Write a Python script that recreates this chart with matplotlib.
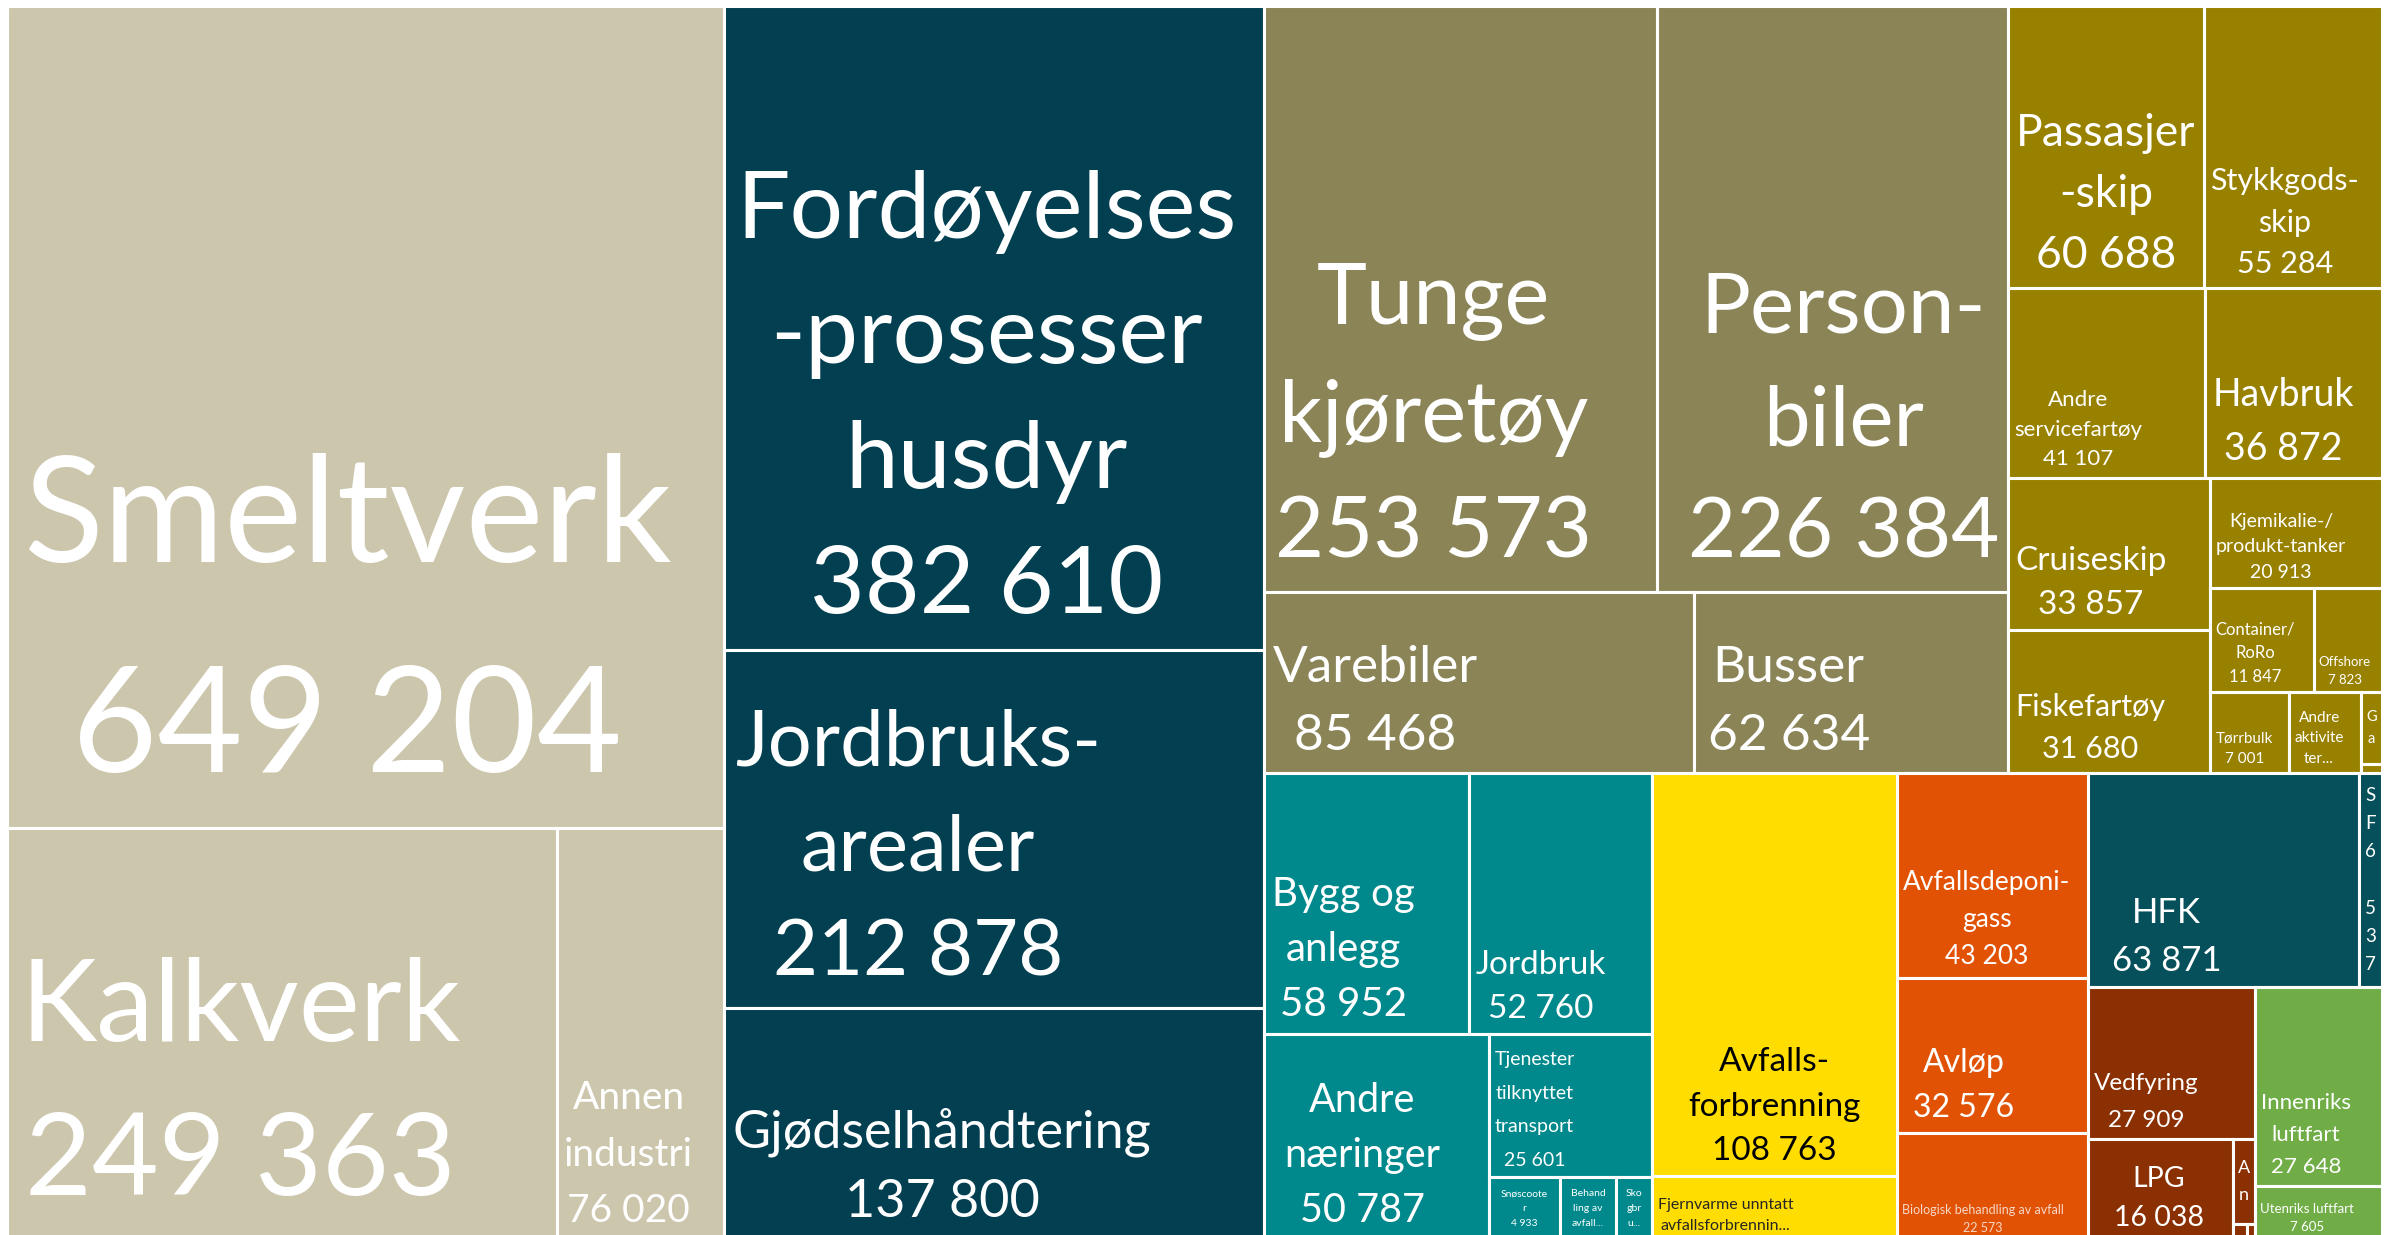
import matplotlib.pyplot as plt
from matplotlib.patches import Rectangle

plt.rcParams["font.family"] = ["Lato", "DejaVu Sans"]

# utslipp per kilde (tonn CO2-ekv.), small cells without visible value are estimated
names = [
    "Smeltverk", "Kalkverk", "Annen industri",
    "Fordøyelsesprosesser husdyr", "Jordbruksarealer", "Gjødselhåndtering",
    "Tunge kjøretøy", "Personbiler", "Varebiler", "Busser",
    "Passasjerskip", "Stykkgodsskip", "Andre servicefartøy", "Havbruk", "Cruiseskip",
    "Fiskefartøy", "Kjemikalie-/produkt-tanker", "Container/RoRo", "Offshore", "Tørrbulk",
    "Andre aktiviteter", "Gasstankskip", "Annet skip",
    "Bygg og anlegg", "Jordbruk", "Andre næringer", "Tjenester tilknyttet transport",
    "Snøscooter", "Behandling av avfall", "Skogbruk",
    "Avfallsforbrenning", "Fjernvarme unntatt avfallsforbrenning",
    "Avfallsdeponigass", "Avløp", "Biologisk behandling av avfall",
    "HFK", "SF6",
    "Vedfyring", "LPG", "Annen oppvarming", "Fyringsolje", "Annet",
    "Innenriks luftfart", "Utenriks luftfart",
]
values = [
    649204, 249363, 76020,
    382610, 212878, 137800,
    253573, 226384, 85468, 62634,
    60688, 55284, 41107, 36872, 33857,
    31680, 20913, 11847, 7823, 7001,
    6400, 1650, 200,
    58952, 52760, 50787, 25601,
    4933, 3900, 2500,
    108763, 17200,
    43203, 32576, 22573,
    63871, 5537,
    27909, 16038, 2100, 250, 150,
    27648, 7605,
]
sectors = (
    ["industri"] * 3 + ["jordbruk"] * 3 + ["veitrafikk"] * 4 + ["sjofart"] * 13
    + ["maskiner"] * 7 + ["forbrenning"] * 2 + ["avfall"] * 3 + ["fgass"] * 2
    + ["oppvarming"] * 5 + ["luftfart"] * 2
)
labels = [
    "Smeltverk\n649 204", "Kalkverk\n249 363", "Annen\nindustri\n76 020",
    "Fordøyelses\n-prosesser\nhusdyr\n382 610", "Jordbruks-\narealer\n212 878", "Gjødselhåndtering\n137 800",
    "Tunge\nkjøretøy\n253 573", "Person-\nbiler\n226 384", "Varebiler\n85 468", "Busser\n62 634",
    "Passasjer\n-skip\n60 688", "Stykkgods-\nskip\n55 284", "Andre\nservicefartøy\n41 107",
    "Havbruk\n36 872", "Cruiseskip\n33 857", "Fiskefartøy\n31 680",
    "Kjemikalie-/\nprodukt-tanker\n20 913", "Container/\nRoRo\n11 847", "Offshore\n7 823",
    "Tørrbulk\n7 001", "Andre\naktivite\nter...", "G\na", "",
    "Bygg og\nanlegg\n58 952", "Jordbruk\n52 760", "Andre\nnæringer\n50 787",
    "Tjenester\ntilknyttet\ntransport\n25 601",
    "Snøscoote\nr\n4 933", "Behand\nling av\navfall...", "Sko\ngbr\nu...",
    "Avfalls-\nforbrenning\n108 763", "Fjernvarme unntatt\navfallsforbrennin...",
    "Avfallsdeponi-\ngass\n43 203", "Avløp\n32 576", "Biologisk behandling av avfall\n22 573",
    "HFK\n63 871", "S\nF\n6\n\n5\n3\n7",
    "Vedfyring\n27 909", "LPG\n16 038", "A\nn", "", "",
    "Innenriks\nluftfart\n27 648", "Utenriks luftfart\n7 605",
]

sector_colors = {
    "industri": "#CCC6AD", "jordbruk": "#023F51", "veitrafikk": "#8A8457",
    "sjofart": "#998100", "maskiner": "#00898C", "forbrenning": "#FFDD00",
    "avfall": "#E15205", "fgass": "#05505A", "oppvarming": "#8A3003",
    "luftfart": "#70AD47",
}
font_pt = {
    "Smeltverk": 106, "Kalkverk": 83, "Annen industri": 28,
    "Fordøyelsesprosesser husdyr": 68, "Jordbruksarealer": 56, "Gjødselhåndtering": 37.5,
    "Tunge kjøretøy": 61, "Personbiler": 60, "Varebiler": 37, "Busser": 37,
    "Passasjerskip": 32, "Stykkgodsskip": 22, "Andre servicefartøy": 16, "Havbruk": 27,
    "Cruiseskip": 24, "Fiskefartøy": 22, "Kjemikalie-/produkt-tanker": 14,
    "Container/RoRo": 12, "Offshore": 9.5, "Tørrbulk": 11, "Andre aktiviteter": 11,
    "Gasstankskip": 10.5, "Bygg og anlegg": 29, "Jordbruk": 24, "Andre næringer": 28.5,
    "Tjenester tilknyttet transport": 14, "Snøscooter": 7.5, "Behandling av avfall": 7.5,
    "Skogbruk": 7.5, "Avfallsforbrenning": 24, "Fjernvarme unntatt avfallsforbrenning": 11.5,
    "Avfallsdeponigass": 19, "Avløp": 23, "Biologisk behandling av avfall": 9,
    "HFK": 25, "SF6": 13.5, "Vedfyring": 17.5, "LPG": 20.5, "Annen oppvarming": 13,
    "Innenriks luftfart": 16, "Utenriks luftfart": 9.5,
}
text_colors = {
    "Avfallsforbrenning": "black",
    "Fjernvarme unntatt avfallsforbrenning": "#262626",
    "Biologisk behandling av avfall": "#F6D8C8",
}
line_spacing = {
    "Smeltverk": 1.7, "Tjenester tilknyttet transport": 2.2, "Vedfyring": 1.9,
    "Annen industri": 1.7, "Innenriks luftfart": 1.75,
}
# extra sideways shift (points) where Excel put the label further in
x_nudge = {
    "Personbiler": 14, "Andre næringer": 9, "HFK": 12, "LPG": 14, "Avløp": 7, "Busser": 4,
}
centered = {"Avfallsforbrenning"}
middle = {"Gasstankskip", "SF6", "Annen oppvarming", "Snøscooter", "Behandling av avfall", "Skogbruk"}

# how Excel nested the cells: "h" = side by side, "v" = stacked
shipping = ("v", [
    ("h", ["Passasjerskip", "Stykkgodsskip"]),
    ("h", ["Andre servicefartøy", "Havbruk"]),
    ("h", [
        ("v", ["Cruiseskip", "Fiskefartøy"]),
        ("v", [
            "Kjemikalie-/produkt-tanker",
            ("h", ["Container/RoRo", "Offshore"]),
            ("h", ["Tørrbulk", "Andre aktiviteter", ("v", ["Gasstankskip", "Annet skip"])]),
        ]),
    ]),
])
road = ("v", [("h", ["Tunge kjøretøy", "Personbiler"]), ("h", ["Varebiler", "Busser"])])
machinery = ("v", [
    ("h", ["Bygg og anlegg", "Jordbruk"]),
    ("h", ["Andre næringer", ("v", [
        "Tjenester tilknyttet transport",
        ("h", ["Snøscooter", "Behandling av avfall", "Skogbruk"]),
    ])]),
])
heating = ("v", ["Vedfyring", ("h", ["LPG", ("v", ["Annen oppvarming", ("h", ["Fyringsolje", "Annet"])])])])
layout = ("h", [
    ("v", ["Smeltverk", ("h", ["Kalkverk", "Annen industri"])]),
    ("v", ["Fordøyelsesprosesser husdyr", "Jordbruksarealer", "Gjødselhåndtering"]),
    ("v", [
        ("h", [road, shipping]),
        ("h", [
            machinery,
            ("v", ["Avfallsforbrenning", "Fjernvarme unntatt avfallsforbrenning"]),
            ("v", ["Avfallsdeponigass", "Avløp", "Biologisk behandling av avfall"]),
            ("v", [
                ("h", ["HFK", "SF6"]),
                ("h", [heating, ("v", ["Innenriks luftfart", "Utenriks luftfart"])]),
            ]),
        ]),
    ]),
])

value_of = dict(zip(names, values))


def total(node):
    if isinstance(node, str):
        return value_of[node]
    return sum(total(k) for k in node[1])


def place(node, x, y, w, h, out):
    if isinstance(node, str):
        out[node] = (x, y, w, h)
        return
    direction, kids = node
    s = total(node)
    for k in kids:
        f = total(k) / s
        if direction == "h":
            place(k, x, y, w * f, h, out)
            x += w * f
        else:
            place(k, x, y, w, h * f, out)
            y += h * f


cells = {}
place(layout, 0.0, 0.0, 1.0, 1.0, cells)

fig = plt.figure(figsize=(23.99, 12.35), dpi=100, facecolor="white")
# the chart runs a few pixels past the bottom edge, as in the original crop
ax = fig.add_axes([7 / 2399, -5 / 1235, 2375 / 2399, 1234 / 1235])
ax.set_xlim(0, 1)
ax.set_ylim(1, 0)
ax.axis("off")

for name, label, sector in zip(names, labels, sectors):
    x, y, w, h = cells[name]
    rect = Rectangle((x, y), w, h, facecolor=sector_colors[sector], edgecolor="white", linewidth=2.2)
    ax.add_patch(rect)
    if not label:
        continue
    fs = font_pt[name]
    color = text_colors.get(name, "white")
    if name in middle:
        t = ax.annotate(label, xy=(x + w / 2, y + h / 2), xytext=(0, 0), textcoords="offset points",
                        ha="center", va="center", multialignment="center", fontsize=fs, color=color,
                        linespacing=1.8)
    elif name in centered:
        t = ax.annotate(label, xy=(x + w / 2, y + h), xytext=(0, 3 + 0.18 * fs), textcoords="offset points",
                        ha="center", va="bottom", multialignment="center", fontsize=fs, color=color,
                        linespacing=1.6)
    else:
        dx = 3 + 0.08 * fs + x_nudge.get(name, 0)
        t = ax.annotate(label, xy=(x, y + h), xytext=(dx, 3 + 0.18 * fs), textcoords="offset points",
                        ha="left", va="bottom", multialignment="center", fontsize=fs, color=color,
                        linespacing=line_spacing.get(name, 1.6))
    t.set_clip_path(rect)

fig.savefig("out.png", dpi=100, facecolor="white")
